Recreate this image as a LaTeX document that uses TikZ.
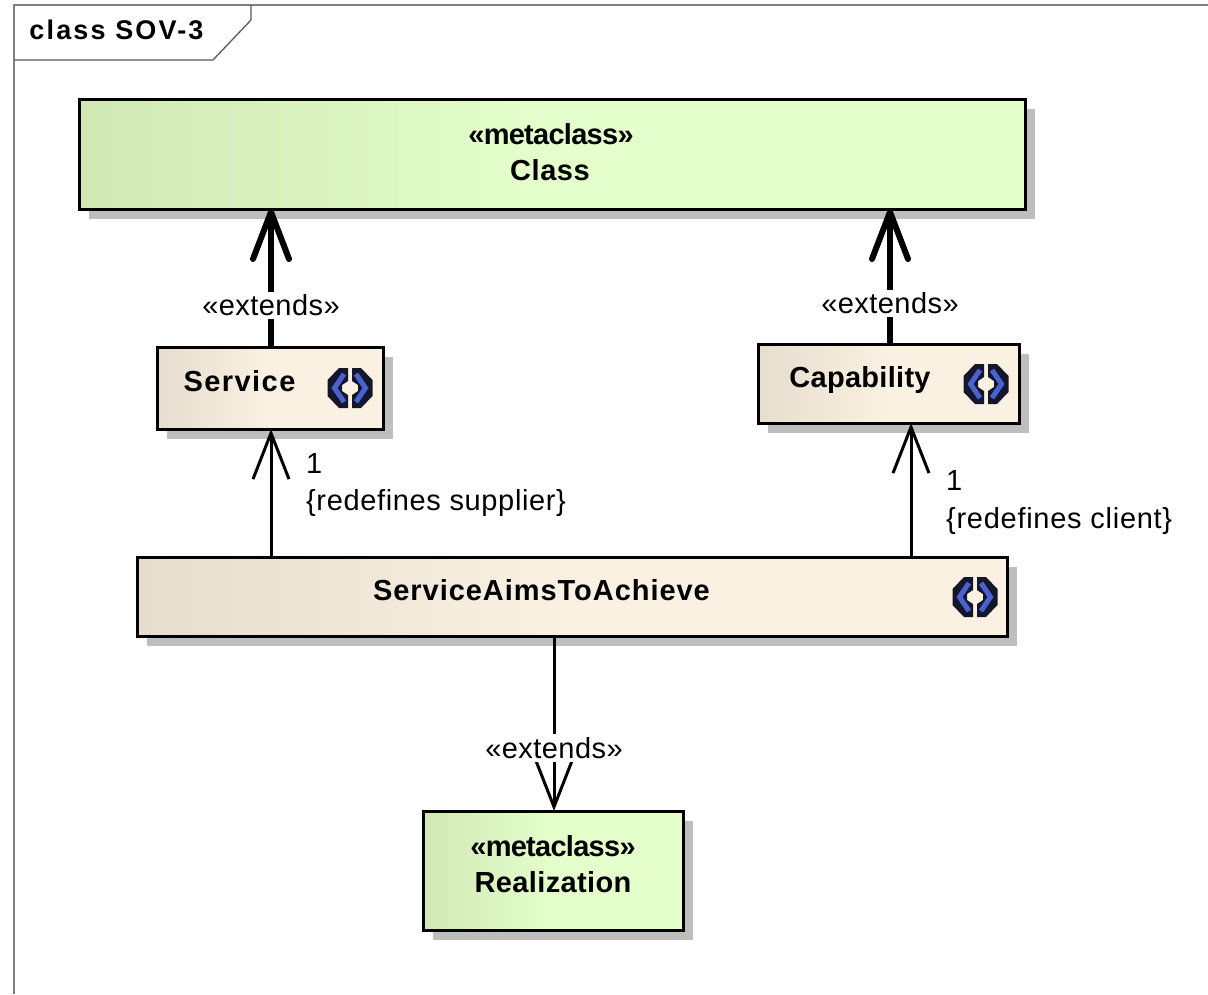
\documentclass[tikz,border=0pt]{standalone}
\usepackage{fontspec}
\setmainfont{Liberation Sans}
\usetikzlibrary{arrows.meta,shadows,calc}
\definecolor{greenA}{HTML}{D0E8B4}
\definecolor{greenB}{HTML}{E4FFCC}
\definecolor{tanA}{HTML}{E6DDCF}
\definecolor{tanB}{HTML}{FAF1E3}
\definecolor{shadowgrey}{HTML}{BEBEBE}
\definecolor{chevb}{HTML}{4A62D0}
\definecolor{chevd}{HTML}{14162C}
\pgfdeclarehorizontalshading{greenfade}{100bp}{color(0bp)=(greenA); color(25bp)=(greenA); color(50bp)=(greenB); color(100bp)=(greenB)}
\pgfdeclarehorizontalshading{tanfade}{100bp}{color(0bp)=(tanA); color(25bp)=(tanA); color(50bp)=(tanB); color(100bp)=(tanB)}
\newcommand{\rfont}{\fontsize{29}{34}\selectfont}
\newcommand{\bfontx}{\fontsize{29}{34}\selectfont\bfseries}
\newcommand{\lsp}[1]{\addfontfeatures{LetterSpace=#1}}
\tikzset{
  x=1pt,y=-1pt,
  boxbase/.style={draw=black,line width=3pt,inner sep=0pt,outer sep=0pt,anchor=north west,
    general shadow={shadow xshift=10pt,shadow yshift=-10pt,fill=shadowgrey}},
  metabox/.style={boxbase,shading=greenfade},
  stereobox/.style={boxbase,shading=tanfade},
  boldtext/.style={inner sep=0pt,font=\bfontx,align=center,text=black},
  plaintext/.style={inner sep=0pt,font=\rfont,anchor=west,text=black},
  extlabel/.style={fill=white,inner sep=3pt,font=\rfont\lsp{1.5},text=black},
  thickext/.style={line width=6pt,-{Straight Barb[length=47pt,width=36pt,round]}},
  thinassoc/.style={line width=3pt,-{Straight Barb[length=46pt,width=36pt]}},
  framelines/.style={draw=gray,line width=1.3pt},
  taglines/.style={draw=black!65,line width=1.3pt},
  chevdark/.style={fill=chevd,draw=none},
  chevblue/.style={draw=chevb,line width=5pt,line join=miter},
}
\newcommand{\chevicon}[1]{%
  \begin{scope}[shift={(#1)}]
    \fill[chevdark] (-2,-20) -- (-11,-20) -- (-22.5,-8) -- (-22.5,8) -- (-11,20) -- (-2,20) -- (-2,7) -- (-8,3) -- (-8,-3) -- (-2,-7) -- cycle;
    \fill[chevdark] (2,-20) -- (11,-20) -- (22.5,-8) -- (22.5,8) -- (11,20) -- (2,20) -- (2,7) -- (8,3) -- (8,-3) -- (2,-7) -- cycle;
    \draw[chevblue] (-6,-14) -- (-15.5,0) -- (-6,14);
    \draw[chevblue] (6,-14) -- (15.5,0) -- (6,14);
  \end{scope}}
\begin{document}
\begin{tikzpicture}
\useasboundingbox (0,0) rectangle (1208,994);
% frame
\draw[framelines] (14,994) -- (14,5) -- (1208,5);
\draw[taglines] (251,5) -- (251,20) -- (213,60) -- (14,60);
\node[inner sep=0pt,anchor=center,font=\fontsize{27}{32}\selectfont\bfseries\lsp{8}] (title) at (116.5,30) {class SOV-3};
% boxes
\node[metabox,minimum width=946pt,minimum height=110pt] (class) at (79,99) {};
\node[stereobox,minimum width=226pt,minimum height=82pt] (service) at (157,347) {};
\node[stereobox,minimum width=261pt,minimum height=79pt] (capability) at (758,344) {};
\node[stereobox,minimum width=870pt,minimum height=79pt] (sata) at (137,557) {};
\node[metabox,minimum width=260pt,minimum height=119pt] (realization) at (423,811) {};
% box texts
\node[boldtext,font=\bfontx\lsp{-2.5}] (classstereo) at (551,134) {«metaclass»};
\node[boldtext,font=\bfontx\lsp{2}] (classname) at (550,170) {Class};
\node[boldtext,font=\bfontx\lsp{5}] (servicename) at (239.5,381) {Service};
\node[boldtext,font=\bfontx\lsp{1}] (capabilityname) at (860,380) {Capability};
\node[boldtext,font=\bfontx\lsp{3.3}] (satname) at (541.5,590) {ServiceAimsToAchieve};
\node[boldtext,font=\bfontx\lsp{-2.5}] (realstereo) at (553,846) {«metaclass»};
\node[boldtext,font=\bfontx\lsp{1.3}] (realname) at (553,882) {Realization};
% icons
\chevicon{350,388}
\chevicon{986,384}
\chevicon{975,597}
% connectors
\draw[thickext] ([xshift=1pt]service.north) -- ([xshift=1pt]service.north |- class.south) node[pos=0.3,extlabel] (ext1) {«extends»};
\draw[thickext] ([xshift=1.5pt]capability.north) -- ([xshift=1.5pt]capability.north |- class.south) node[pos=0.3,extlabel] (ext2) {«extends»};
\draw[thinassoc] ([xshift=1pt]service.south |- sata.north) -- ([xshift=1pt]service.south);
\draw[thinassoc] ([xshift=22.5pt]capability.south |- sata.north) -- ([xshift=22.5pt]capability.south);
\draw[thinassoc] ([xshift=1pt]realization.north |- sata.south) -- ([xshift=1pt]realization.north) node[pos=0.64,extlabel] (ext3) {«extends»};
% role labels
\node[plaintext] (mult1) at (306,464) {1};
\node[plaintext] (role1) at (306,503) {\lsp{2.2}\{redefines supplier\}};
\node[plaintext] (mult2) at (946,481) {1};
\node[plaintext] (role2) at (946,521) {\lsp{2.5}\{redefines client\}};
\end{tikzpicture}
\end{document}
